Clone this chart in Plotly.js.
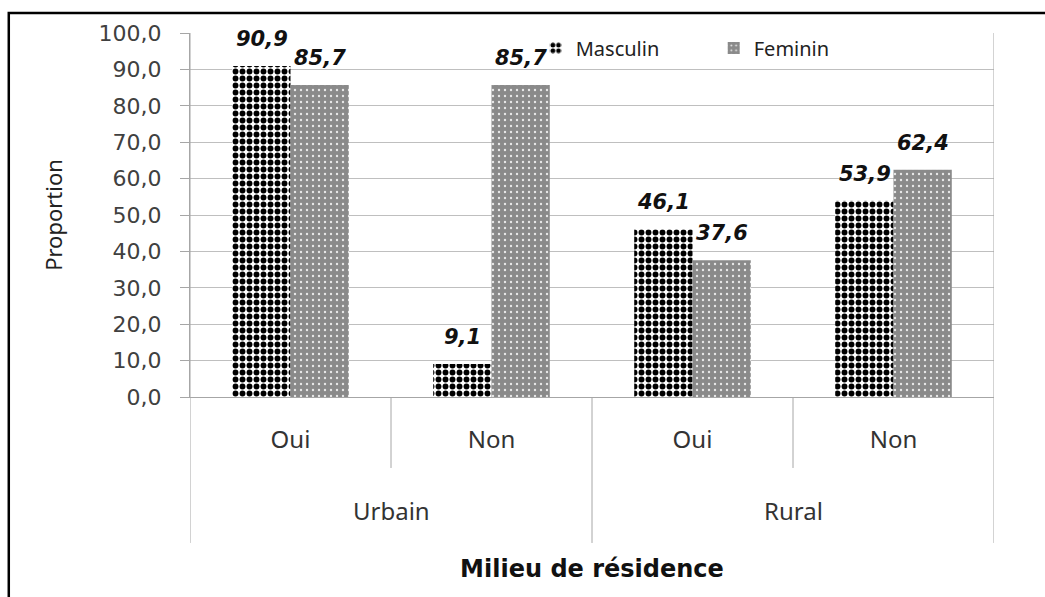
<!DOCTYPE html>
<html><head><meta charset="utf-8">
<script src="https://cdn.plot.ly/plotly-3.0.1.min.js"></script>
<style>html,body{margin:0;padding:0;background:#fff;overflow:hidden;} #chart{width:1045px;height:597px;}</style>
</head><body><div id="chart"></div>
<script>
// ---- data ----
const groups = ["Urbain", "Urbain", "Rural", "Rural"];
const subs = ["Oui", "Non", "Oui", "Non"];
const masculin = [90.9, 9.1, 46.1, 53.9];
const feminin = [85.7, 85.7, 37.6, 62.4];
const seriesNames = ["Masculin", "Feminin"];
const yTicks = [0, 10, 20, 30, 40, 50, 60, 70, 80, 90, 100];
const xTitle = "Milieu de résidence";
const yTitle = "Proportion";

// ---- build ----
const cats = groups.map((g, i) => g + " " + subs[i]);
const fmt = v => v.toFixed(1).replace('.', ',');
const catFont = {family: "Noto Sans, sans-serif", size: 24, color: "#333333"};

const traces = [
  {type: 'bar', name: seriesNames[0], x: cats, y: masculin,
   marker: {color: '#ffffff', line: {width: 0},
            pattern: {shape: '.', fgcolor: '#000000', bgcolor: '#ffffff', size: 7, solidity: 0.55}}},
  {type: 'bar', name: seriesNames[1], x: cats, y: feminin,
   marker: {color: '#8c8c8c', line: {width: 0},
            pattern: {shape: '.', fgcolor: '#e8e8e8', bgcolor: '#8a8a8a', size: 6, solidity: 0.12}}}
];

const annotations = [];
const labelFont = {family: "DejaVu Sans, sans-serif", size: 21, color: "#111111", weight: 'bold', style: 'italic'};
[masculin, feminin].forEach((arr, s) => {
  arr.forEach((v, i) => {
    annotations.push({x: cats[i], y: v, xref: 'x', yref: 'y', text: '<b><i>' + fmt(v) + '</i></b>',
      showarrow: false, xshift: s === 0 ? -29 : 29, yshift: 27, yanchor: 'middle', font: labelFont});
  });
});
// group (outer) labels
const uniq = [...new Set(groups)];
uniq.forEach(g => {
  const idx = groups.map((x, i) => x === g ? i : -1).filter(i => i >= 0);
  const mid = (idx[0] + idx[idx.length - 1]) / 2;
  annotations.push({x: mid, y: -0.312, xref: 'x', yref: 'paper', text: g, showarrow: false,
    yanchor: 'middle', font: catFont});
});

const divColor = '#a6a6a6';
const shapes = [];
// dividers between inner categories and outer groups
for (let i = 0; i <= cats.length; i++) {
  const pos = i - 0.5;
  const outer = (i === 0 || i === cats.length || groups[i] !== groups[i - 1]);
  shapes.push({type: 'line', xref: 'x', yref: 'paper', x0: pos, x1: pos,
    y0: (i === 0 || i === cats.length) ? 1 : 0, y1: outer ? -0.401 : -0.195,
    line: {color: divColor, width: 1}});
}
// outer black frame (top & left visible)
shapes.push({type: 'rect', xref: 'paper', yref: 'paper', x0: -0.2254, x1: 1.3, y0: -1.0, y1: 1.0549,
  line: {color: '#000000', width: 2.5}, fillcolor: 'rgba(0,0,0,0)'});

const layout = {
  width: 1045, height: 597,
  margin: {l: 190, r: 51, t: 33, b: 200},
  paper_bgcolor: '#ffffff', plot_bgcolor: '#ffffff',
  separators: ', ',
  barmode: 'group', bargap: 0.42, bargroupgap: 0,
  showlegend: true,
  legend: {orientation: 'h', x: 0.43, xanchor: 'left', y: 0.959, yanchor: 'middle',
    bgcolor: 'rgba(0,0,0,0)', entrywidth: 133, entrywidthmode: 'pixels',
    font: {family: "Noto Sans, sans-serif", size: 20, color: '#222222'}},
  xaxis: {type: 'category', tickvals: cats, ticktext: subs, ticks: '', showgrid: false,
    showline: true, linecolor: divColor, linewidth: 1, zeroline: false, automargin: false,
    ticklabelstandoff: 21, tickfont: catFont, range: [-0.5, cats.length - 0.5],
    title: {text: xTitle, standoff: 106,
      font: {family: "DejaVu Sans, sans-serif", size: 24, color: '#111111', weight: 'bold'}}},
  yaxis: {range: [0, 100], tickvals: yTicks, tickformat: '.1f', ticks: 'outside', ticklen: 9,
    tickcolor: divColor, showline: true, linecolor: divColor, linewidth: 1,
    showgrid: true, gridcolor: '#bfbfbf', gridwidth: 1, zeroline: false, automargin: false,
    ticklabelstandoff: 14,
    tickfont: {family: "DejaVu Sans, sans-serif", size: 22, color: '#404040'},
    title: {text: yTitle, standoff: 29,
      font: {family: "Noto Sans, sans-serif", size: 22, color: '#222222'}}},
  annotations: annotations,
  shapes: shapes
};

Plotly.newPlot('chart', traces, layout, {staticPlot: true, displayModeBar: false});
</script>
</body></html>
